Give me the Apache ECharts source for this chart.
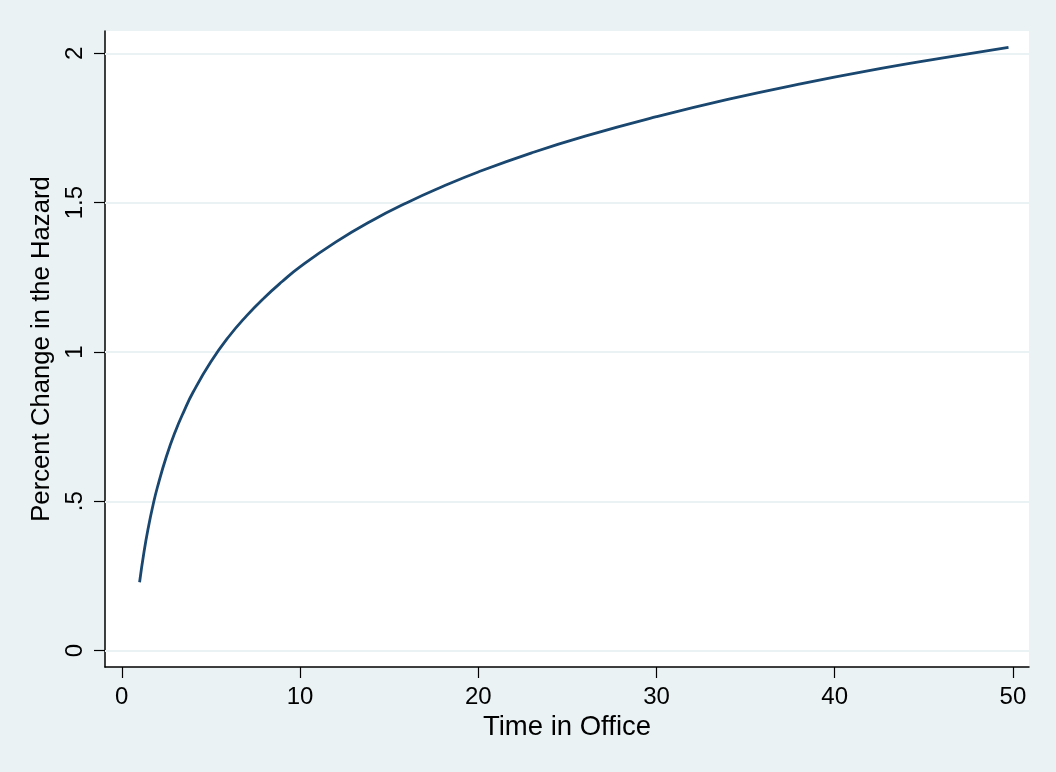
<!DOCTYPE html>
<html>
<head>
<meta charset="utf-8">
<script src="https://cdn.jsdelivr.net/npm/echarts@6/dist/echarts.min.js"></script>
<style>
html,body{margin:0;padding:0;background:#eaf2f3;}
#chart{width:1056px;height:772px;}
</style>
</head>
<body>
<div id="chart"></div>
<script>
// Time in office (years) and percent change in the hazard
var timeInOffice = [1, 1.25, 1.5, 1.75, 2, 2.5, 3, 3.5, 4, 5, 6, 7, 8, 9, 10, 12, 14, 16, 18, 20, 23, 26, 30, 34, 38, 42, 46, 49.75];
var hazardChange = [0.229, 0.331, 0.415, 0.486, 0.547, 0.649, 0.733, 0.803, 0.865, 0.967, 1.051, 1.121, 1.182, 1.236, 1.285, 1.368, 1.439, 1.500, 1.554, 1.603, 1.667, 1.723, 1.788, 1.846, 1.897, 1.943, 1.984, 2.020];
var xTicks = [0, 10, 20, 30, 40, 50];
var yTicks = [0, 0.5, 1, 1.5, 2];
var yTickLabels = ['0', '.5', '1', '1.5', '2'];

var points = timeInOffice.map(function (t, i) { return [t, hazardChange[i]]; });

var chart = echarts.init(document.getElementById('chart'));
var font = 'Arial, "Liberation Sans", sans-serif';
chart.setOption({
  backgroundColor: '#eaf2f3',
  animation: false,
  grid: {
    left: 105, right: 27, top: 31, bottom: 105,
    show: true, backgroundColor: '#ffffff', borderWidth: 0
  },
  xAxis: {
    type: 'value',
    min: -0.94, max: 50.9,
    name: 'Time in Office',
    nameLocation: 'middle',
    nameGap: 43,
    nameTextStyle: { fontFamily: font, fontSize: 27.5, color: '#000' },
    axisLine: { show: true, onZero: false, lineStyle: { color: '#000', width: 1.5 } },
    axisTick: { show: true, length: 11, customValues: xTicks, lineStyle: { color: '#000', width: 1.2 } },
    axisLabel: { customValues: xTicks, margin: 18, fontFamily: font, fontSize: 24, color: '#000' },
    splitLine: { show: false }
  },
  yAxis: {
    type: 'value',
    min: -0.055, max: 2.075,
    name: 'Percent Change in the Hazard',
    nameLocation: 'middle',
    nameGap: 47,
    nameRotate: 90,
    nameTextStyle: { fontFamily: font, fontSize: 25.7, color: '#000' },
    axisLine: { show: true, onZero: false, lineStyle: { color: '#000', width: 1.5 } },
    axisTick: { show: true, length: 11, customValues: yTicks, lineStyle: { color: '#000', width: 1.2 } },
    axisLabel: {
      customValues: yTicks, rotate: 90, margin: 18, fontFamily: font, fontSize: 24, color: '#000',
      formatter: function (v) { var i = yTicks.indexOf(v); return i >= 0 ? yTickLabels[i] : ''; }
    },
    splitLine: { show: false }
  },
  series: [{
    type: 'line',
    data: [],
    z: 1,
    markLine: {
      silent: true,
      symbol: 'none',
      label: { show: false },
      lineStyle: { color: '#eaf2f3', width: 2, type: 'solid' },
      data: yTicks.map(function (v) { return { yAxis: v }; })
    }
  }, {
    type: 'line',
    data: points,
    showSymbol: false,
    smooth: true,
    lineStyle: { color: '#1a476f', width: 2.8 },
    z: 5
  }]
});
</script>
</body>
</html>
